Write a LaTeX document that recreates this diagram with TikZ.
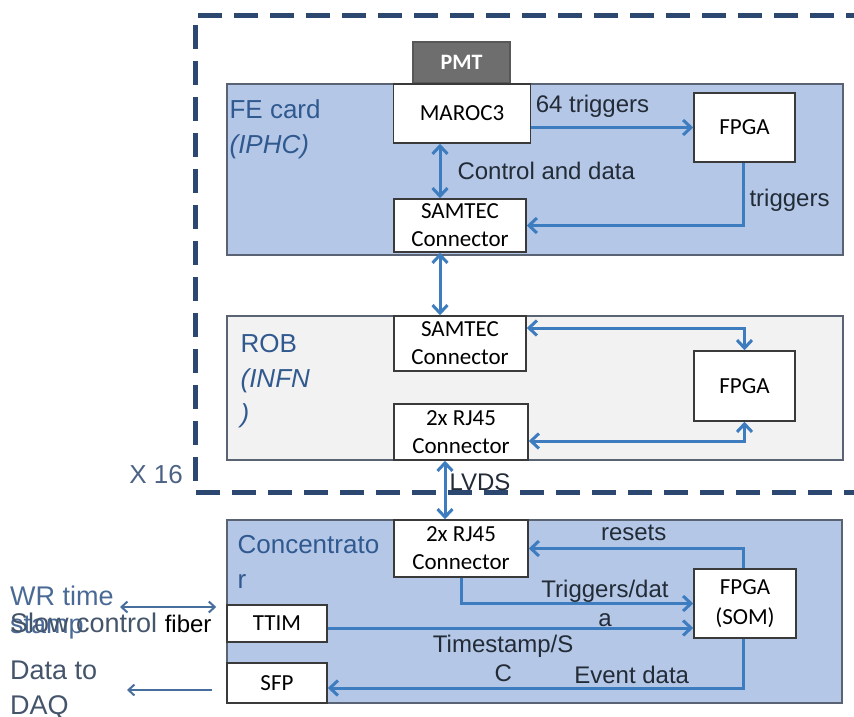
\documentclass[tikz,border=0pt]{standalone}
\usepackage{fontspec}
\setmainfont{Liberation Sans}
\newfontfamily\boxfont{Carlito}
\usetikzlibrary{arrows.meta}

\definecolor{cardblue}{HTML}{B4C7E7}
\definecolor{robgray}{HTML}{F2F2F2}
\definecolor{cardline}{HTML}{5A6373}
\definecolor{blkline}{HTML}{3A3A3A}
\definecolor{linkblue}{HTML}{3C7CBF}
\definecolor{lbltext}{HTML}{222B36}
\definecolor{titleblue}{HTML}{30598F}
\definecolor{framenavy}{HTML}{2C4770}
\definecolor{extslate}{HTML}{44546A}
\definecolor{extblue}{HTML}{4A6A95}
\definecolor{pmtgray}{HTML}{6E6E6E}

\begin{document}
\begin{tikzpicture}[x=1pt, y=-1pt,
    >={Straight Barb[length=8pt,width=15pt]},
    card/.style={draw=cardline, line width=1.2pt, inner sep=0pt},
    blk/.style={draw=blkline, fill=white, line width=1.5pt, inner sep=0pt,
      align=center, font=\boxfont\fontsize{23}{28}\selectfont},
    link/.style={draw=linkblue, line width=3pt},
    thinlink/.style={draw=extblue!80!linkblue, line width=2pt,
      >={Straight Barb[length=6pt,width=11pt]}},
    lbl/.style={font=\fontsize{24}{29}\selectfont, text=lbltext, inner sep=1pt},
    title/.style={font=\fontsize{26}{35}\selectfont, text=titleblue,
      align=left, inner sep=0pt},
    ext/.style={font=\fontsize{27}{35}\selectfont, align=left, inner sep=0pt},
    frame/.style={draw=framenavy, line width=5pt, dash pattern=on 24pt off 12pt}]
  \useasboundingbox (0,0) rectangle (854,717);

  % x16 frame
  \draw[frame] (870,16) -- (195,16) -- (195,492) -- (870,492);
  \coordinate (framesw) at (195,492);
  \node (xsixteen) [title, anchor=east, text=framenavy!85!white] at ([xshift=-12,yshift=17]framesw) {X 16};

  % boards
  \node (fe) [card, fill=cardblue, minimum width=616, minimum height=171] at (535,169.5) {};
  \node (rob) [card, fill=robgray, minimum width=616, minimum height=144] at (535,388) {};
  \node (conc) [card, fill=cardblue, minimum width=615, minimum height=183] at (534.5,611.5) {};

  \node (fetitle) [title, anchor=north west] at ([xshift=3,yshift=-16]fe.north west)
    {FE card\\\textit{(IPHC)}};
  \node (robtitle) [title, anchor=north west] at ([xshift=14,yshift=-19]rob.north west)
    {ROB\\\textit{(INFN}\\\textit{)}};
  \node (conctitle) [title, anchor=north west] at ([xshift=11,yshift=-16]conc.north west)
    {Concentrato\\r\\\textit{(IPHC)}};

  % FE card
  \node (pmt) [blk, fill=pmtgray, draw=pmtgray!80!black, text=white, font=\boxfont\bfseries\fontsize{22}{26}\selectfont,
    minimum width=97, minimum height=41] at (461.5,62.5) {PMT};
  \node (maroc) [blk, minimum width=137, minimum height=59] at (462,113.5) {MAROC3};
  \node (fpgafe) [blk, minimum width=101, minimum height=69] at (744.5,127.5) {FPGA};
  \node (samtecfe) [blk, minimum width=132, minimum height=53] at (460,225.5) {SAMTEC\\Connector};

  % ROB
  \node (samtecrob) [blk, minimum width=132, minimum height=55] at (460,343.5) {SAMTEC\\Connector};
  \node (rjrob) [blk, minimum width=134, minimum height=56] at (461,432) {2x RJ45\\Connector};
  \node (fpgarob) [blk, minimum width=101, minimum height=70] at (744.5,386) {FPGA};

  % Concentrator
  \node (rjconc) [blk, minimum width=134, minimum height=57] at (461,548.5) {2x RJ45\\Connector};
  \node (ttim) [blk, minimum width=100, minimum height=37] at (277,623.5) {TTIM};
  \node (sfp) [blk, minimum width=100, minimum height=40] at (277,683) {SFP};
  \node (som) [blk, minimum width=102, minimum height=69, font=\boxfont\fontsize{23}{30}\selectfont]
    at (745,603.5) {FPGA\\(SOM)};

  % links
  \draw[link, ->] (maroc.east |- fpgafe.west) -- (fpgafe.west)
    node[lbl, pos=0, anchor=south west, xshift=2, yshift=8] {64 triggers};
  \draw[link, <->] ([xshift=-22]maroc.south) -- ([xshift=-22]maroc.south |- samtecfe.north)
    node[lbl, midway, right, xshift=15] {Control and data};
  \draw[link, ->] ([xshift=-1.5]fpgafe.south) |- (samtecfe.east)
    node[lbl, pos=0.3, right, xshift=4] {triggers};
  \draw[link, <->] ([xshift=-20]samtecfe.south) -- ([xshift=-20]samtecfe.south |- samtecrob.north);
  \draw[link, <->] ([yshift=15.5]samtecrob.east) -| (fpgarob.north);
  \draw[link, <->] ([yshift=-9]rjrob.east) -| (fpgarob.south);
  \draw[link, <->] ([xshift=-16]rjconc.north |- rjrob.south) -- ([xshift=-16]rjconc.north)
    node[lbl, pos=0.37, right, xshift=2] {LVDS};
  \draw[link, ->] ([xshift=-2]som.north) |- (rjconc.east)
    node[lbl, pos=0.755, above, yshift=5] {resets};
  \draw[link, ->] (rjconc.south) |- (som.west)
    node[lbl, pos=0.81, align=center] {Triggers/dat\\a};
  \draw[link, ->] ([yshift=-4.5]ttim.east) -- ([yshift=-4.5]ttim.east -| som.west)
    node[lbl, pos=0.48, below, align=center, yshift=-5] {Timestamp/S\\C};
  \draw[link, ->] ([xshift=-2]som.south) |- ([yshift=-5]sfp.east)
    node[lbl, pos=0.634, above, yshift=1.5] {Event data};

  % outside world
  \node (wrtime) [ext, text=extblue, anchor=north west, font=\fontsize{27}{28}\selectfont] at (10,585.5) {WR time\\stamp};
  \node (slowctrl) [ext, text=extslate, anchor=base west] at (10,632.7)
    {Slow control \textcolor{black}{\fontsize{24}{28}\selectfont fiber}};
  \node (daq) [ext, text=extslate, anchor=north west] at (10,660.5) {Data to\\DAQ};
  \coordinate (wrfree) at (120,607);
  \coordinate (daqfree) at (127,690);
  \draw[thinlink, <->] (wrfree) -- ([xshift=-10,yshift=16.5]ttim.west);
  \draw[thinlink, ->] ([xshift=-14,yshift=-7]sfp.west) -- (daqfree);
\end{tikzpicture}
\end{document}
